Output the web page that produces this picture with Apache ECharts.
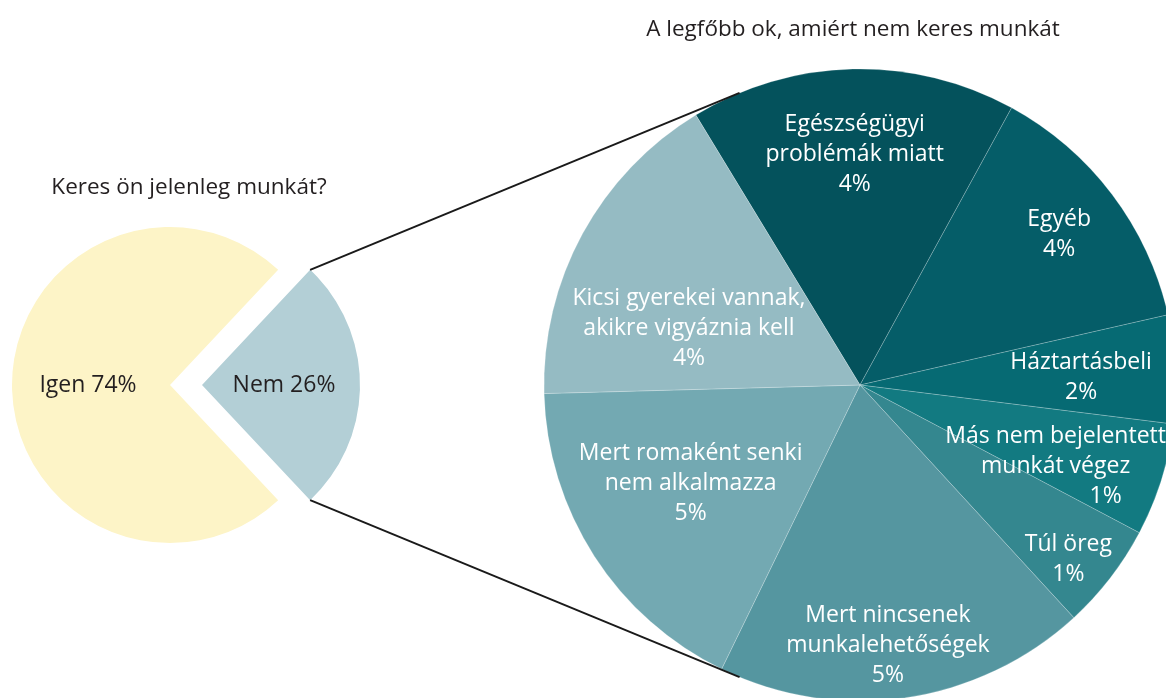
<!DOCTYPE html>
<html lang="hu">
<head>
    <meta charset="UTF-8">
    <title>keres_munkat_pie</title>
    <script src="https://cdn.jsdelivr.net/npm/echarts@6/dist/echarts.min.js"></script>
    <style>
        html, body { margin: 0; padding: 0; background: #fff; }
    </style>
</head>

<body>
    <div id="mainChart" style="width: 1166px; height: 698px;"></div>
    <script>
        // bal oldali kör
        const answerNames = ['Igen', 'Nem']
        const answerValues = [74, 26]

        // jobb oldali kör: a "Nem" válaszok megoszlása
        const reasonNames = [
            'Egészségügyi\nproblémák miatt',
            'Egyéb',
            'Háztartásbeli',
            'Más nem bejelentett\nmunkát végez',
            'Túl öreg',
            'Mert nincsenek\nmunkalehetőségek',
            'Mert romaként senki\nnem alkalmazza',
            'Kicsi gyerekei vannak,\nakikre vigyáznia kell'
        ]
        const reasonValues = [4.33, 3.5, 1.44, 1.5, 1.41, 4.95, 4.51, 4.35]
        const reasonLabels = ['4%', '4%', '2%', '1%', '1%', '5%', '5%', '4%']

        const leftColors = ['#fdf4c7', '#b3cfd6']
        const rightColors = ['#04525c', '#055d68', '#066a73', '#127a81', '#34878f', '#5596a0', '#73a9b2', '#95bbc3']

        // címkék helye: sugár aránya, szögeltolás fokban
        const labelPlace = [[0.73, 0], [0.79, 0], [0.70, 1], [0.67, 5], [0.86, 2.3], [0.83, 2.2], [0.62, 2.6], [0.57, -10.3]]

        const font = '"Open Sans", "Noto Sans", sans-serif'
        const fs = 23
        const L = { cx: 170, cy: 385, r: 158, off: 32 }
        const R = { cx: 860, cy: 385, r: 316 }

        const answerTotal = answerValues.reduce((a, b) => a + b, 0)
        const nemHalf = answerValues[1] / answerTotal * 180

        // érintő a kis körcikk sarkából a nagy körhöz
        function tangent(px, py, upper) {
            let dx = px - R.cx, dy = py - R.cy
            let d = Math.sqrt(dx * dx + dy * dy)
            let base = Math.atan2(dy, dx)
            let a = Math.acos(R.r / d)
            let t = upper ? base + a : base - a
            return [R.cx + R.r * Math.cos(t), R.cy + R.r * Math.sin(t)]
        }

        let chart = echarts.init(document.querySelector('#mainChart'))

        let nemRad = nemHalf * Math.PI / 180
        let topCorner = [L.cx + L.off + L.r * Math.cos(nemRad), L.cy - L.r * Math.sin(nemRad)]
        let botCorner = [L.cx + L.off + L.r * Math.cos(nemRad), L.cy + L.r * Math.sin(nemRad)]
        let topT = tangent(topCorner[0], topCorner[1], true)
        let botT = tangent(botCorner[0], botCorner[1], false)

        let option = {
            animation: false,
            title: [
                {
                    text: 'Keres ön jelenleg munkát?',
                    left: 189,
                    top: 176,
                    padding: 0,
                    textAlign: 'center',
                    textStyle: { fontFamily: font, fontSize: 22.5, fontWeight: 'normal', color: '#231f20' }
                },
                {
                    text: 'A legfőbb ok, amiért nem keres munkát',
                    left: 853,
                    top: 18,
                    padding: 0,
                    textAlign: 'center',
                    textStyle: { fontFamily: font, fontSize: 22.5, fontWeight: 'normal', color: '#231f20' }
                }
            ],
            graphic: [
                {
                    type: 'line',
                    shape: { x1: topCorner[0], y1: topCorner[1], x2: topT[0], y2: topT[1] },
                    style: { stroke: '#1a1a1a', lineWidth: 2 },
                    z: 10
                },
                {
                    type: 'line',
                    shape: { x1: botCorner[0], y1: botCorner[1], x2: botT[0], y2: botT[1] },
                    style: { stroke: '#1a1a1a', lineWidth: 2 },
                    z: 10
                }
            ],
            series: [
                {
                    type: 'pie',
                    center: [L.cx, L.cy],
                    radius: L.r,
                    startAngle: nemHalf,
                    clockwise: false,
                    selectedMode: 'single',
                    selectedOffset: L.off,
                    emphasis: { disabled: true },
                    select: { itemStyle: { borderWidth: 0 } },
                    label: {
                        position: 'inside',
                        fontFamily: font,
                        fontSize: fs,
                        color: '#231f20',
                        formatter: p => p.name + ' ' + p.value + '%'
                    },
                    labelLine: { show: false },
                    data: answerNames.map((n, i) => ({
                        name: n,
                        value: answerValues[i],
                        selected: n === 'Nem',
                        itemStyle: { color: leftColors[i] }
                    }))
                },
                {
                    type: 'pie',
                    center: [R.cx, R.cy],
                    radius: R.r,
                    startAngle: 90 + 31.3,
                    emphasis: { disabled: true },
                    itemStyle: { borderColor: 'rgba(255,255,255,0.35)', borderWidth: 0.6 },
                    label: {
                        position: 'inside',
                        fontFamily: font,
                        fontSize: fs,
                        lineHeight: 30,
                        color: '#fff',
                        align: 'center',
                        rich: {
                            q: { fontFamily: font, fontSize: fs, lineHeight: 30, color: '#fff', padding: [0, 0, 0, 100] }
                        },
                        formatter: p => {
                            let pct = reasonLabels[p.dataIndex]
                            return p.name + '\n' + (p.dataIndex === 3 ? '{q|' + pct + '}' : pct)
                        }
                    },
                    labelLine: { show: false },
                    labelLayout: function (params) {
                        let layout = chart.getModel().getSeriesByIndex(1).getData().getItemLayout(params.dataIndex)
                        let place = labelPlace[params.dataIndex]
                        let mid = (layout.startAngle + layout.endAngle) / 2 + place[1] * Math.PI / 180
                        return {
                            x: layout.cx + layout.r * place[0] * Math.cos(mid),
                            y: layout.cy + layout.r * place[0] * Math.sin(mid),
                            align: 'center',
                            verticalAlign: 'middle'
                        }
                    },
                    data: reasonNames.map((n, i) => ({
                        name: n,
                        value: reasonValues[i],
                        itemStyle: { color: rightColors[i] }
                    }))
                }
            ]
        }

        chart.setOption(option)
    </script>
</body>

</html>
